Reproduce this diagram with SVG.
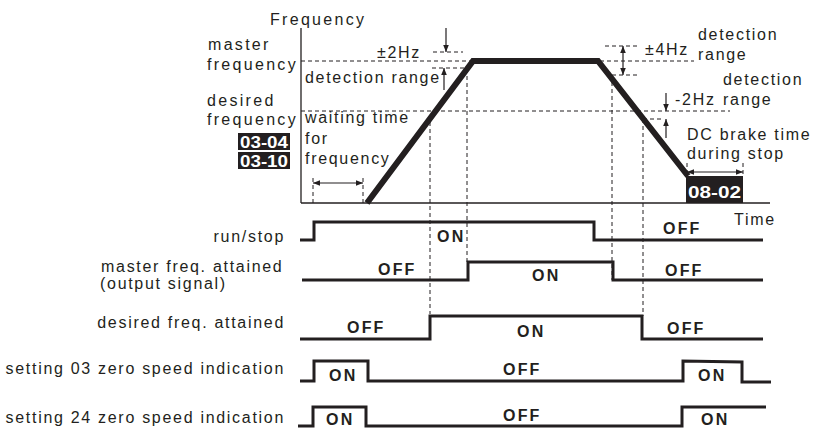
<svg xmlns="http://www.w3.org/2000/svg" width="814" height="429" viewBox="0 0 814 429">
<style>
text{font-family:"Liberation Sans",Arial,sans-serif;font-size:16px;fill:#231f20;letter-spacing:1.7px}
.l{letter-spacing:2.3px}
.b{font-weight:bold;letter-spacing:2.2px}
.w{fill:#fff;font-weight:bold;letter-spacing:0}
.end{text-anchor:end}
.ax{stroke:#231f20;stroke-width:1.3;fill:none}
.d{stroke:#231f20;stroke-width:1;stroke-dasharray:4 3;fill:none}
.sig{stroke:#231f20;stroke-width:3;fill:none;stroke-linejoin:miter}
.ar{stroke:#231f20;stroke-width:1.2;fill:none}
</style>
<defs>
<marker id="ah" viewBox="0 0 10 10" refX="10" refY="5" markerWidth="7" markerHeight="7" markerUnits="userSpaceOnUse" orient="auto-start-reverse">
<path d="M0,1 L10,5 L0,9 Z" fill="#231f20"/>
</marker>
</defs>
<rect width="814" height="429" fill="#fff"/>

<g id="axes">
<line class="ax" x1="301" y1="28" x2="301" y2="203"/>
<line class="ax" x1="301" y1="203" x2="770" y2="203"/>
<text class="l" x="270" y="25">Frequency</text>
<text x="734" y="225">Time</text>
</g>

<g id="connectors">
<line class="d" x1="301" y1="61" x2="472" y2="61"/>
<line class="d" x1="600" y1="61" x2="694" y2="61"/>
<line class="d" x1="301" y1="111" x2="730" y2="111"/>
<line class="d" x1="433" y1="52" x2="463" y2="52"/>
<line class="d" x1="432" y1="68" x2="470" y2="68"/>
<line class="d" x1="605" y1="46" x2="640" y2="46"/>
<line class="d" x1="612" y1="75" x2="640" y2="75"/>
<line class="d" x1="643" y1="119" x2="664" y2="119"/>
<line class="d" x1="313" y1="178" x2="313" y2="203"/>
<line class="d" x1="363" y1="178" x2="363" y2="203"/>
<line class="d" x1="430" y1="122" x2="430" y2="314"/>
<line class="d" x1="467" y1="69" x2="467" y2="262"/>
<line class="d" x1="612" y1="75" x2="612" y2="280"/>
<line class="d" x1="643" y1="119" x2="643" y2="316"/>
<line class="d" x1="687" y1="163" x2="687" y2="177"/>
<line class="d" x1="743" y1="163" x2="743" y2="177"/>
<line class="ar" x1="313" y1="183" x2="363" y2="183" marker-start="url(#ah)" marker-end="url(#ah)"/>
<line class="ar" x1="446" y1="28" x2="446" y2="52" marker-end="url(#ah)"/>
<line class="ar" x1="444" y1="90" x2="444" y2="68" marker-end="url(#ah)"/>
<line class="ar" x1="623" y1="46" x2="623" y2="75" marker-start="url(#ah)" marker-end="url(#ah)"/>
<line class="ar" x1="666" y1="93" x2="666" y2="111" marker-end="url(#ah)"/>
<line class="ar" x1="666" y1="138" x2="666" y2="119" marker-end="url(#ah)"/>
<line class="ar" x1="687" y1="172" x2="743" y2="172" marker-start="url(#ah)" marker-end="url(#ah)"/>
</g>

<g id="freq-curve">
<polyline points="367,203 473,61 598,61 688,176" fill="none" stroke="#231f20" stroke-width="6" stroke-linejoin="miter"/>
</g>

<g id="left-labels">
<text class="l" x="208" y="50">master</text>
<text class="l" x="207" y="70">frequency</text>
<text class="l" x="207" y="106">desired</text>
<text class="l" x="207" y="125">frequency</text>
<rect x="238" y="133" width="52" height="17" fill="#231f20"/>
<text class="w" x="264" y="148" text-anchor="middle" font-size="17" textLength="48" lengthAdjust="spacingAndGlyphs">03-04</text>
<rect x="238" y="152" width="52" height="17" fill="#231f20"/>
<text class="w" x="264" y="167" text-anchor="middle" font-size="17" textLength="48" lengthAdjust="spacingAndGlyphs">03-10</text>
</g>

<g id="detect-2hz">
<text x="377" y="58">±2Hz</text>
<text x="305" y="83">detection range</text>
</g>

<g id="waiting">
<text x="305" y="123">waiting time</text>
<text x="305" y="144">for</text>
<text x="305" y="164">frequency</text>
</g>

<g id="detect-4hz">
<text x="645" y="55">±4Hz</text>
<text x="698" y="40">detection</text>
<text x="698" y="60">range</text>
</g>

<g id="detect-minus2hz">
<text x="675" y="105">-2Hz</text>
<text x="723" y="85">detection</text>
<text x="723" y="105">range</text>
</g>

<g id="dc-brake">
<text x="687" y="140">DC brake time</text>
<text x="687" y="159">during stop</text>
<rect x="686" y="176" width="57" height="27" fill="#231f20"/>
<text class="w" x="714.5" y="198" text-anchor="middle" font-size="21" textLength="53" lengthAdjust="spacingAndGlyphs">08-02</text>
</g>

<g id="run-stop">
<text class="end" x="285" y="242">run/stop</text>
<polyline class="sig" points="300,240 314,240 314,222 594,222 594,240 763,240"/>
<text class="b" x="437" y="242">ON</text>
<text class="b" x="663" y="234">OFF</text>
</g>

<g id="master-attained">
<text x="101" y="272">master freq. attained</text>
<text x="100" y="289">(output signal)</text>
<polyline class="sig" points="302,280 468,280 468,262 613,262 613,280 763,280"/>
<text class="b" x="378" y="275">OFF</text>
<text class="b" x="532" y="281">ON</text>
<text class="b" x="665" y="276">OFF</text>
</g>

<g id="desired-attained">
<text class="end" x="285" y="328">desired freq. attained</text>
<polyline class="sig" points="300,339 430,339 430,316 642,316 642,339 763,339"/>
<text class="b" x="347" y="333">OFF</text>
<text class="b" x="517" y="337">ON</text>
<text class="b" x="667" y="334">OFF</text>
</g>

<g id="zero-speed-03">
<text class="end" x="285" y="374">setting 03 zero speed indication</text>
<polyline class="sig" points="300,381 314,381 314,361 368,361 368,381 683,381 683,361 742,362 742,382 771,382"/>
<text class="b" x="329" y="381">ON</text>
<text class="b" x="503" y="375">OFF</text>
<text class="b" x="698" y="381">ON</text>
</g>

<g id="zero-speed-24">
<text class="end" x="285" y="423">setting 24 zero speed indication</text>
<polyline class="sig" points="298,426 313,426 313,407 366,407 366,426 682,426 682,407 766,407"/>
<text class="b" x="326" y="425">ON</text>
<text class="b" x="503" y="421">OFF</text>
<text class="b" x="701" y="425">ON</text>
</g>
</svg>
